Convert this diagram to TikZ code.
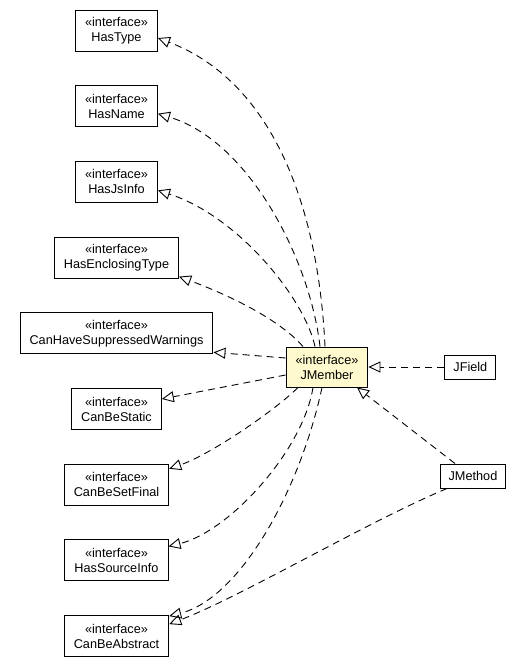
\documentclass[tikz,border=0pt]{standalone}
\usepackage{fontspec}
\setmainfont{Liberation Sans}
\usetikzlibrary{positioning, arrows.meta}
\definecolor{memberfill}{RGB}{255,250,205}

\begin{document}
\begin{tikzpicture}[x=1pt, y=1pt]
		\tikzset{
			iface/.style={draw, line width=1pt, align=center, inner xsep=9.5pt, minimum height=41pt, fill=white},
			klass/.style={draw, line width=1pt, inner xsep=8.5pt, minimum height=24pt, fill=white},
			member/.style={iface, minimum height=40pt, fill=memberfill},
			impl/.style={dash pattern=on 7pt off 5pt, line width=0.9pt, -{Triangle[open, length=12pt, width=11pt]}},
			every node/.style={font=\fontsize{12.7}{15}\selectfont}
		}
		\useasboundingbox (0,0) rectangle (523,-659);
		
		% Interface nodes
		\node[iface] (hastype) at (116.5,-30.5) {«interface»\\HasType};
		\node[iface, below=33.7pt of hastype] (hasname) {«interface»\\HasName};
		\node[iface, below=33.7pt of hasname] (hasjsinfo) {«interface»\\HasJsInfo};
		\node[iface, below=33.7pt of hasjsinfo] (hasenclosing) {«interface»\\HasEnclosingType};
		\node[iface, below=33.7pt of hasenclosing] (suppressed) {«interface»\\CanHaveSuppressedWarnings};
		\node[iface, below=33.7pt of suppressed] (canbestatic) {«interface»\\CanBeStatic};
		\node[iface, below=33.7pt of canbestatic] (canbesetfinal) {«interface»\\CanBeSetFinal};
		\node[iface, below=33.7pt of canbesetfinal] (hassourceinfo) {«interface»\\HasSourceInfo};
		\node[iface, below=33.7pt of hassourceinfo] (canbeabstract) {«interface»\\CanBeAbstract};
		
		% Member interface
		\node[member] (jmember) at (327,-367) {«interface»\\JMember};
		
		% Implementing classes
		\node[klass, right=76pt of jmember] (jfield) {JField};
		\node[klass] (jmethod) at (473,-476) {JMethod};
		
		% Realization arrows
		\draw[impl] ([xshift=-2pt]jmember.north) .. controls +(-7,147) and +(111,-42) .. ([yshift=-7.5pt]hastype.east);
		\draw[impl] ([xshift=-7pt]jmember.north) .. controls +(-10,87) and +(91,-27) .. ([yshift=-7.5pt]hasname.east);
		\draw[impl] ([xshift=-12pt]jmember.north) .. controls +(-10,47) and +(81,-26) .. ([yshift=-8.5pt]hasjsinfo.east);
		\draw[impl] ([xshift=-24pt]jmember.north) .. controls +(-28,32) and +(35,-13) .. ([yshift=2pt]hasenclosing.south east);
		\draw[impl] ([yshift=9pt]jmember.west) -- ([yshift=2pt]suppressed.south east);
		\draw[impl] ([yshift=-8pt]jmember.west) -- ([yshift=10pt]canbestatic.east);
		\draw[impl] ([xshift=-29pt]jmember.south) .. controls +(-23,-23) and +(41,14) .. ([yshift=-5pt]canbesetfinal.north east);
		\draw[impl] ([xshift=-14pt]jmember.south) .. controls +(-10,-63) and +(61,15) .. ([yshift=-7pt]hassourceinfo.north east);
		\draw[impl] ([xshift=-5pt]jmember.south) .. controls +(-22,-103) and +(71,18) .. ([yshift=-1pt]canbeabstract.north east);
		
		\draw[impl] (jfield) -- (jmember);
		\draw[impl] ([xshift=-18pt]jmethod.north) -- ([xshift=30pt]jmember.south);
		\draw[impl] ([xshift=-26pt]jmethod.south) .. controls +(-77,-32) and +(71,27) .. ([yshift=-9pt]canbeabstract.north east);
		
	\end{tikzpicture}
\end{document}
